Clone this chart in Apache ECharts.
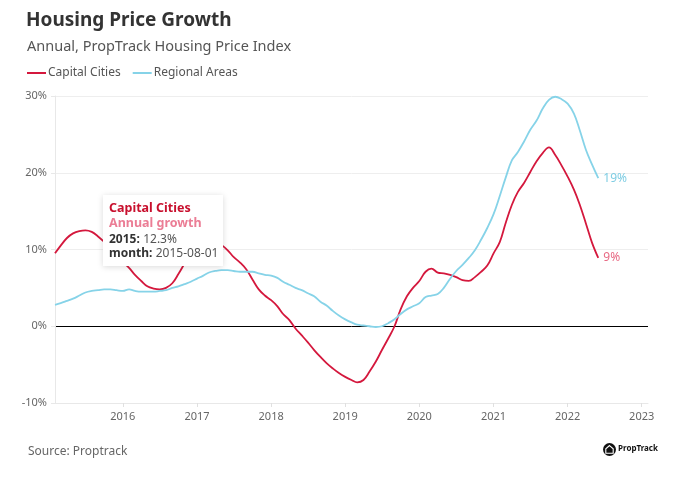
<!DOCTYPE html>
<html><head><meta charset="utf-8">
<script src="https://cdn.jsdelivr.net/npm/echarts@6/dist/echarts.min.js"></script>
<style>html,body{margin:0;padding:0;background:#fff}#c{width:695px;height:486px}</style>
</head><body><div id="c"></div>
<script>
// Monthly observations, first month = Feb 2015, last = Jun 2022
const firstMonth = [2015, 2];
const capitalCities = [
  9.5, 10.5, 11.5, 12.1, 12.4, 12.5, 12.3, 11.7, 11.0, 10.2, 9.3, 8.4,
  7.6, 6.7, 5.9, 5.2, 4.9, 4.8, 5.0, 5.6, 6.8, 8.2, 9.5, 10.6,
  11.2, 11.4, 11.1, 10.6, 9.9, 9.0, 8.3, 7.4, 6.1, 4.8, 4.0, 3.4,
  2.6, 1.6, 0.8, -0.3, -1.2, -2.1, -3.1, -4.0, -4.8, -5.5, -6.1, -6.6,
  -7.0, -7.3, -7.0, -5.9, -4.6, -3.1, -1.6, 0.0, 2.2, 3.9, 5.0, 5.9,
  7.1, 7.5, 7.0, 6.9, 6.7, 6.4, 6.0, 5.9, 6.4, 7.1, 7.9, 9.5,
  11.0, 13.4, 15.8, 17.5, 18.7, 20.1, 21.5, 22.6, 23.3, 22.3, 21.0, 19.5,
  17.8, 15.9, 13.4, 10.9, 8.9
];
const regionalAreas = [
  2.8, 3.0, 3.3, 3.6, 4.0, 4.4, 4.6, 4.7, 4.8, 4.8, 4.7, 4.6,
  4.8, 4.6, 4.5, 4.5, 4.5, 4.6, 4.7, 5.0, 5.2, 5.5, 5.8, 6.2,
  6.6, 7.0, 7.2, 7.3, 7.3, 7.2, 7.1, 7.1, 7.1, 6.9, 6.7, 6.6,
  6.3, 5.8, 5.4, 5.0, 4.7, 4.3, 3.9, 3.2, 2.7, 2.0, 1.4, 0.9,
  0.5, 0.2, 0.1, 0.0, -0.1, 0.0, 0.4, 0.9, 1.6, 2.2, 2.6, 3.0,
  3.8, 4.0, 4.2, 5.0, 6.2, 7.2, 8.0, 8.9, 9.9, 11.3, 12.8, 14.6,
  17.0, 19.3, 21.6, 22.7, 24.1, 25.6, 26.8, 28.4, 29.5, 29.9, 29.6, 29.0,
  27.7, 25.6, 23.0, 21.1, 19.3
];
const yTicks = [-10, 0, 10, 20, 30];
const seriesNames = ['Capital Cities', 'Regional Areas'];
const tooltipIndex = 6;

const months = capitalCities.map((_, i) => {
  const m = firstMonth[1] - 1 + i;
  const y = firstMonth[0] + Math.floor(m / 12);
  return y + '-' + String(m % 12 + 1).padStart(2, '0') + '-01';
});
const axisMin = months[0];
const axisMax = '2023-02-01';

const RED = '#d4183d', BLUE = '#86d3e8';
const FONT = 'Noto Sans';

const chart = echarts.init(document.getElementById('c'), null, {renderer: 'canvas'});
const tipDate = months[tooltipIndex];
const tipYear = tipDate.slice(0, 4);
const tipVal = capitalCities[tooltipIndex].toFixed(1);

chart.setOption({
  animation: false,
  textStyle: {fontFamily: FONT},
  title: [
    {text: 'Housing Price Growth', left: 21, top: 6,
     textStyle: {fontFamily: FONT, fontSize: 19, fontWeight: 'bold', color: '#333'}},
    {text: 'Annual, PropTrack Housing Price Index', left: 22, top: 34,
     textStyle: {fontFamily: FONT, fontSize: 14.5, fontWeight: 'normal', color: '#555'}},
    {text: 'Source: Proptrack', left: 23, top: 441,
     textStyle: {fontFamily: FONT, fontSize: 12, fontWeight: 'normal', color: '#666'}}
  ],
  legend: {
    left: 22, top: 62, icon: 'rect', itemWidth: 19, itemHeight: 2, itemGap: 12,
    textStyle: {fontFamily: FONT, fontSize: 12, color: '#555', padding: [0, 0, 0, -3]},
    data: seriesNames
  },
  grid: {left: 55, right: 47, top: 96, bottom: 83},
  xAxis: {
    type: 'time', min: axisMin, max: axisMax, splitNumber: 8,
    axisLine: {onZero: false, lineStyle: {color: '#e8e8e8'}},
    axisTick: {show: true, length: 4, lineStyle: {color: '#e0e0e0'}},
    splitLine: {show: false},
    axisLabel: {color: '#666', fontSize: 11, margin: 8, fontFamily: FONT,
      formatter: v => String(new Date(v).getFullYear())}
  },
  yAxis: {
    type: 'value', min: yTicks[0], max: yTicks[yTicks.length - 1], interval: 10,
    axisLine: {show: true, lineStyle: {color: '#e8e8e8'}},
    axisTick: {show: true, length: 4, lineStyle: {color: '#e8e8e8'}},
    axisLabel: {color: '#666', fontSize: 11, margin: 8, fontFamily: FONT, formatter: '{value}%'},
    splitLine: {lineStyle: {color: yTicks.map(t => t === 0 ? '#000' : '#eeeeee'), width: 1}}
  },
  series: [
    {name: seriesNames[0], type: 'line', smooth: 0.4, showSymbol: false, color: RED,
     lineStyle: {width: 1.8, color: RED},
     data: months.map((d, i) => [d, capitalCities[i]]),
     endLabel: {show: true, color: '#e86a84', fontSize: 12, fontFamily: FONT, distance: 5,
       formatter: p => Math.round(p.value[1]) + '%'}},
    {name: seriesNames[1], type: 'line', smooth: 0.4, showSymbol: false, color: BLUE,
     lineStyle: {width: 1.8, color: BLUE},
     data: months.map((d, i) => [d, regionalAreas[i]]),
     endLabel: {show: true, color: '#7fcde3', fontSize: 12, fontFamily: FONT, distance: 5,
       formatter: p => Math.round(p.value[1]) + '%'}}
  ],
  graphic: [
    {type: 'group', left: 103, top: 195, zlevel: 2, z: 100, children: [
      {type: 'rect', z: 100, zlevel: 2, shape: {x: 0, y: 0, width: 120, height: 71},
       style: {fill: '#fff', shadowBlur: 6, shadowColor: 'rgba(0,0,0,0.15)', shadowOffsetY: 1}},
      {type: 'text', z: 101, zlevel: 2, x: 6, y: 7, style: {text: seriesNames[0], fill: '#c8102e',
        font: 'bold 12.5px "' + FONT + '"'}},
      {type: 'text', z: 101, zlevel: 2, x: 6, y: 22, style: {text: 'Annual growth', fill: '#eb7d95',
        font: 'bold 12.5px "' + FONT + '"'}},
      {type: 'text', z: 101, zlevel: 2, x: 6, y: 39, style: {text: '{b|' + tipYear + ':} {v|' + tipVal + '%}',
        rich: {b: {fontFamily: FONT, fontWeight: 'bold', fontSize: 12, fill: '#333', color: '#333'},
               v: {fontFamily: FONT, fontSize: 12, fill: '#555', color: '#555'}}}},
      {type: 'text', z: 101, zlevel: 2, x: 6, y: 53, style: {text: '{b|month:} {v|' + tipDate + '}',
        rich: {b: {fontFamily: FONT, fontWeight: 'bold', fontSize: 12, fill: '#333', color: '#333'},
               v: {fontFamily: FONT, fontSize: 12, fill: '#555', color: '#555'}}}}
    ]},
    {type: 'group', left: 603, top: 443, children: [
      {type: 'circle', shape: {cx: 6.5, cy: 6.5, r: 6.5}, style: {fill: '#111'}},
      {type: 'polygon', shape: {points: [[6.5, 2.6], [10.2, 5.8], [10.2, 10.2], [2.8, 10.2], [2.8, 5.8]]},
       style: {fill: 'none', stroke: '#fff', lineWidth: 1.1}},
      {type: 'text', x: 15, y: 2, style: {text: 'PropTrack', fill: '#111',
        font: 'bold 8px "' + FONT + '"'}}
    ]}
  ]
});
</script></body></html>
